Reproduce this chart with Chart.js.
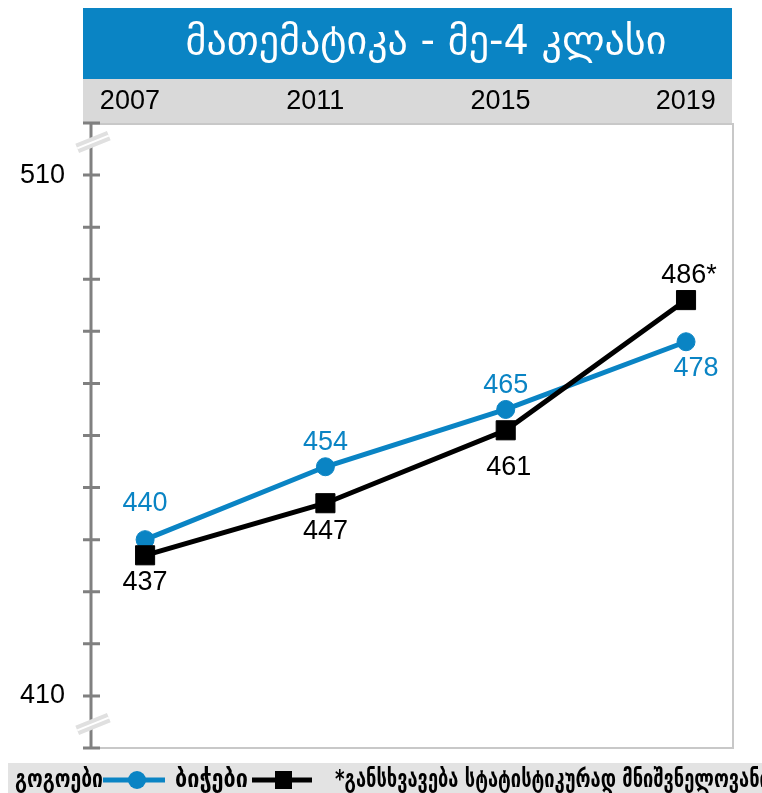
<!DOCTYPE html>
<html>
<head>
<meta charset="utf-8">
<script src="https://cdn.jsdelivr.net/npm/chart.js@4.4.1/dist/chart.umd.min.js"></script>
<style>
  html, body { margin: 0; padding: 0; background: #fff; }
  #wrap { width: 762px; height: 793px; }
</style>
</head>
<body>
<div id="wrap"><canvas id="mathChart" width="762" height="793"></canvas></div>
<script>
// მონაცემები (მათემატიკა, მე-4 კლასი)
const years = [2007, 2011, 2015, 2019];
const girls = [440, 454, 465, 478];
const boys = [437, 447, 461, 486];
const girlsLabels = ['440', '454', '465', '478'];
const boysLabels = ['437', '447', '461', '486*'];
const yTickLabels = { 510: '510', 410: '410' };

const titleText = 'მათემატიკა - მე-4 კლასი';
const girlsName = 'გოგოები';
const boysName = 'ბიჭები';
const noteText = '*განსხვავება სტატისტიკურად მნიშვნელოვანია';

// ფერები
const BLUE = '#0a84c4';
const AXIS_GRAY = '#808080';
const BORDER_GRAY = '#c8c8c8';
const BAND_GRAY = '#d9d9d9';
const NUM_FONT = '"Liberation Sans", Arial, sans-serif';
const GEO_FONT = '"DejaVu Sans", sans-serif';

// წარწერების გადაადგილება წერტილის მიმართ [dx, dy]
const girlsLabelPos = [[0, -36], [0, -24], [0, -24], [10, 27]];
const boysLabelPos = [[0, 27], [0, 28], [3, 37], [3, -25]];

// ფონი: სათაური და წლების ზოლი
const backgroundPlugin = {
    id: 'backgroundPlugin',
    beforeDraw(chart) {
        const ctx = chart.ctx;
        const area = chart.chartArea;
        ctx.save();
        ctx.fillStyle = BLUE;
        ctx.fillRect(83, 8, area.right - 83, 71);
        ctx.fillStyle = BAND_GRAY;
        ctx.fillRect(83, 79, area.right - 83, area.top - 79);

        ctx.fillStyle = '#fff';
        ctx.font = '40px ' + GEO_FONT;
        ctx.textAlign = 'center';
        ctx.textBaseline = 'middle';
        ctx.fillText(titleText, 426, 44, 484);

        // ჩარჩო
        ctx.strokeStyle = BORDER_GRAY;
        ctx.lineWidth = 2;
        ctx.beginPath();
        ctx.moveTo(area.left, area.top + 1);
        ctx.lineTo(area.right + 1, area.top + 1);
        ctx.lineTo(area.right + 1, area.bottom);
        ctx.lineTo(area.left, area.bottom);
        ctx.stroke();
        ctx.restore();
    }
};

// Y ღერძი, დანაყოფები და წყვეტის ნიშნები
const axisPlugin = {
    id: 'axisPlugin',
    beforeDatasetsDraw(chart) {
        const ctx = chart.ctx;
        const area = chart.chartArea;
        const y = chart.scales.y;
        const x0 = area.left;
        ctx.save();
        ctx.strokeStyle = AXIS_GRAY;
        ctx.lineWidth = 3;
        ctx.beginPath();
        ctx.moveTo(x0, area.top);
        ctx.lineTo(x0, area.bottom);
        y.ticks.forEach(t => {
            const py = y.getPixelForValue(t.value);
            ctx.moveTo(x0 - 8, py);
            ctx.lineTo(x0 + 9, py);
        });
        ctx.stroke();

        [142, 724].forEach(by => {
            ctx.save();
            ctx.translate(x0 + 2, by);
            ctx.rotate(-0.38);
            ctx.fillStyle = '#e0e0e0';
            ctx.fillRect(-17, -5, 34, 10);
            ctx.fillStyle = '#fff';
            ctx.fillRect(-17, -1, 34, 2);
            ctx.restore();
        });
        ctx.restore();
    }
};

// მნიშვნელობების წარწერები
const valueLabelPlugin = {
    id: 'valueLabelPlugin',
    afterDatasetsDraw(chart) {
        const ctx = chart.ctx;
        ctx.save();
        ctx.font = '27px ' + NUM_FONT;
        ctx.textAlign = 'center';
        ctx.textBaseline = 'middle';
        chart.data.datasets.forEach((ds, i) => {
            const meta = chart.getDatasetMeta(i);
            meta.data.forEach((pt, j) => {
                const [dx, dy] = ds.labelPos[j];
                ctx.fillStyle = ds.labelColor;
                ctx.fillText(ds.valueLabels[j], pt.x + dx, pt.y + dy);
            });
        });
        ctx.restore();
    }
};

// ლეგენდა ქვედა ზოლში
const legendPlugin = {
    id: 'legendPlugin',
    afterDraw(chart) {
        const ctx = chart.ctx;
        const cy = 780;
        ctx.save();
        ctx.fillStyle = '#e3e3e3';
        ctx.fillRect(8, 763, 762 - 8, 30);

        ctx.fillStyle = '#000';
        ctx.font = 'bold 25px ' + GEO_FONT;
        ctx.textAlign = 'left';
        ctx.textBaseline = 'middle';
        ctx.fillText(girlsName, 15, cy, 88);
        ctx.fillText(boysName, 175, cy, 73);
        ctx.fillText(noteText, 335, cy, 445);

        const girlsDs = chart.data.datasets.find(d => d.label === girlsName);
        const boysDs = chart.data.datasets.find(d => d.label === boysName);

        ctx.lineWidth = 5;
        ctx.strokeStyle = girlsDs.borderColor;
        ctx.beginPath();
        ctx.moveTo(103, cy);
        ctx.lineTo(165, cy);
        ctx.stroke();
        ctx.fillStyle = girlsDs.pointBackgroundColor;
        ctx.beginPath();
        ctx.arc(137, cy, 9, 0, Math.PI * 2);
        ctx.fill();

        ctx.strokeStyle = boysDs.borderColor;
        ctx.beginPath();
        ctx.moveTo(252, cy);
        ctx.lineTo(312, cy);
        ctx.stroke();
        ctx.fillStyle = boysDs.pointBackgroundColor;
        ctx.fillRect(275, cy - 9, 17, 18);
        ctx.restore();
    }
};

new Chart(document.getElementById('mathChart'), {
    type: 'line',
    data: {
        datasets: [
            {
                label: girlsName,
                data: years.map((yr, i) => ({ x: yr, y: girls[i] })),
                borderColor: BLUE,
                backgroundColor: BLUE,
                pointBackgroundColor: BLUE,
                pointBorderColor: BLUE,
                borderWidth: 5,
                pointStyle: 'circle',
                pointRadius: 9,
                pointBorderWidth: 1,
                tension: 0,
                order: 2,
                valueLabels: girlsLabels,
                labelPos: girlsLabelPos,
                labelColor: BLUE
            },
            {
                label: boysName,
                data: years.map((yr, i) => ({ x: yr, y: boys[i] })),
                borderColor: '#000',
                backgroundColor: '#000',
                pointBackgroundColor: '#000',
                pointBorderColor: '#000',
                borderWidth: 5,
                pointStyle: 'rect',
                pointRadius: 13.5,
                pointBorderWidth: 1,
                tension: 0,
                order: 1,
                valueLabels: boysLabels,
                labelPos: boysLabelPos,
                labelColor: '#000'
            }
        ]
    },
    options: {
        responsive: false,
        devicePixelRatio: 1,
        animation: false,
        events: [],
        layout: { padding: { top: 79, right: 30, bottom: 45, left: 0 } },
        plugins: {
            legend: { display: false },
            tooltip: { enabled: false },
            title: { display: false }
        },
        scales: {
            x: {
                type: 'linear',
                display: false,
                min: 2005.8,
                max: 2020.02
            },
            xTop: {
                type: 'linear',
                position: 'top',
                min: 2006.16,
                max: 2020,
                afterBuildTicks: s => { s.ticks = years.map(v => ({ value: v })); },
                afterFit: s => { s.height = 44; },
                grid: { display: false, drawTicks: false },
                border: { display: false },
                ticks: {
                    padding: 5,
                    color: '#000',
                    font: { family: NUM_FONT, size: 27 },
                    callback: v => String(v)
                }
            },
            y: {
                min: 400,
                max: 520,
                afterFit: s => { s.width = 91; },
                grid: { display: false, drawTicks: false },
                border: { display: false },
                ticks: {
                    stepSize: 10,
                    padding: 26,
                    color: '#000',
                    font: { family: NUM_FONT, size: 27 },
                    autoSkip: false,
                    callback: v => yTickLabels[v] || ''
                }
            }
        }
    },
    plugins: [backgroundPlugin, axisPlugin, valueLabelPlugin, legendPlugin]
});
</script>
</body>
</html>
